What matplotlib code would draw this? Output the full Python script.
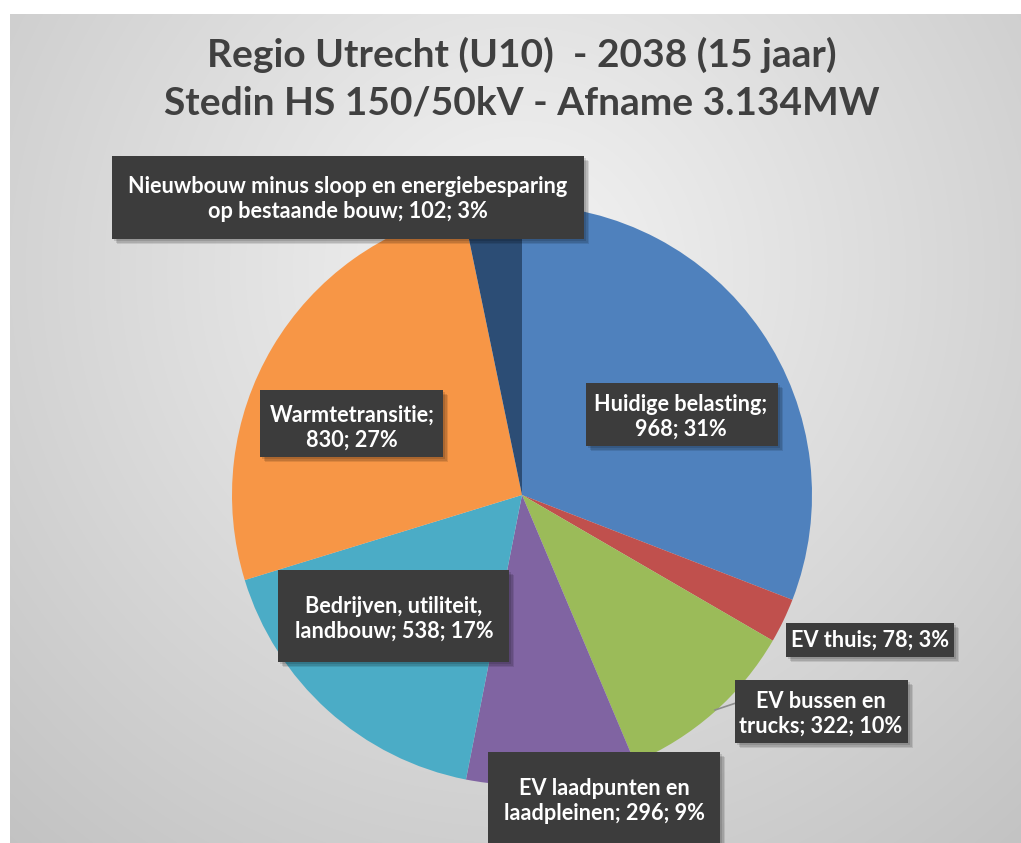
import textwrap
import numpy as np
import matplotlib
matplotlib.use("Agg")
import matplotlib.pyplot as plt
from matplotlib.patches import Rectangle

# ---------------- data ----------------
categories = [
    "Huidige belasting",
    "EV thuis",
    "EV bussen en trucks",
    "EV laadpunten en laadpleinen",
    "Bedrijven, utiliteit, landbouw",
    "Warmtetransitie",
    "Nieuwbouw minus sloop en energiebesparing op bestaande bouw",
]
values = [968, 78, 322, 296, 538, 830, 102]
percent_labels = [31, 3, 10, 9, 17, 27, 3]
title_lines = ["Regio Utrecht (U10)  - 2038 (15 jaar)",
               "Stedin HS 150/50kV - Afname 3.134MW"]

# ---------------- style / layout ----------------
colors = ["#4F81BD", "#C0504D", "#9BBB59", "#8064A2", "#4BACC6", "#F79646", "#2C4D75"]
W, H = 1021, 843
center_px = (522, 495)
radius_px = 290
# label boxes (x0, y0, x1, y1) in pixels from top-left, text centre, wrap widths
label_boxes = [(586, 383, 778, 446), (786, 623, 954, 657), (735, 680, 908, 743),
               (488, 752, 720, 850), (278, 570, 509, 662), (260, 390, 443, 457),
               (112, 156, 584, 239)]
text_pos = [(681, 417), (870, 640), (821, 714), (604, 801), (394, 619), (352, 428), (348, 199)]
wrap_w = [18, 40, 16, 20, 21, 16, 41]

FONT = "Lato"

fig = plt.figure(figsize=(W / 100, H / 100), dpi=100, facecolor="white")
ax = fig.add_axes([0, 0, 1, 1])

# background radial gradient (framed by a thin white margin top/left)
x0, ytop = 10, 14
yy, xx = np.mgrid[0:H - ytop, 0:W - x0]
px = xx + x0
py = yy + ytop
d = np.hypot(px - 520, py - 270)
g = 0.955 - 0.19 * np.clip(d / 760.0, 0, 1.2)
img = np.dstack([g, g, g])
ax.imshow(img, extent=(x0, W, 0, H - ytop), origin="upper", zorder=0, aspect="auto",
          interpolation="bilinear")

# pie
ax.pie(values, colors=colors, startangle=90, counterclock=False,
       center=(center_px[0], H - center_px[1]), radius=radius_px, frame=True,
       wedgeprops=dict(linewidth=0), normalize=True)
ax.set_xlim(0, W)
ax.set_ylim(0, H)
ax.set_aspect("auto")
ax.axis("off")

# leader line for "EV bussen en trucks"
ax.plot([715, 736], [H - 710, H - 703], color="#8C8C8C", lw=1.2, zorder=3)

# labels
for cat, val, pct, (bx0, by0, bx1, by1), (tx, ty), w in zip(
        categories, values, percent_labels, label_boxes, text_pos, wrap_w):
    txt = textwrap.fill(f"{cat}; {val}; {pct}%", width=w)
    # soft shadow
    for off, a in ((5, 0.10), (3.5, 0.12), (2, 0.12)):
        ax.add_patch(Rectangle((bx0 + off, H - by1 - off), bx1 - bx0, by1 - by0,
                               fc=(0, 0, 0, a), ec="none", zorder=4))
    ax.add_patch(Rectangle((bx0, H - by1), bx1 - bx0, by1 - by0,
                           fc="#3C3C3C", ec="none", zorder=5))
    ax.text(tx, H - ty, txt, color="white", zorder=6, ha="center", va="center",
            fontsize=15.6, fontweight="bold", family=FONT, linespacing=1.22,
            multialignment="center")

# title
ax.text(522, H - 55, title_lines[0], ha="center", va="center", fontsize=28,
        fontweight="bold", family=FONT, color="#404040", zorder=6)
ax.text(522, H - 103, title_lines[1], ha="center", va="center", fontsize=28,
        fontweight="bold", family=FONT, color="#404040", zorder=6)

fig.savefig("out.png", dpi=100, facecolor="white")
